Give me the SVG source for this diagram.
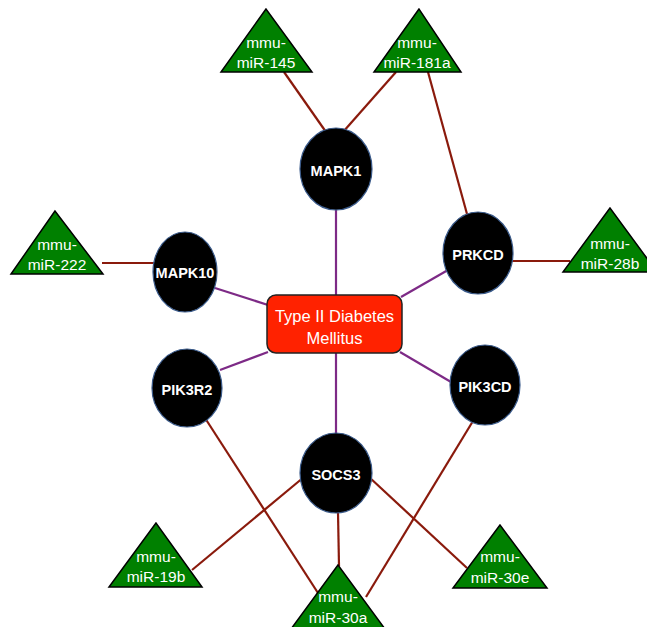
<svg xmlns="http://www.w3.org/2000/svg" width="647" height="627" viewBox="0 0 647 627">
<style>
.bg{fill:#ffffff}
.tri{fill:#008000;stroke:#000;stroke-width:1.5;stroke-linejoin:miter}
.gene{fill:#000;stroke:#3a5a8a;stroke-width:1.2}
.hub{fill:#ff2200;stroke:#222;stroke-width:1.5}
.tt{font-family:"Liberation Sans",Arial,sans-serif;font-size:15.5px;fill:#fff;text-anchor:middle}
.gt{font-family:"Liberation Sans",Arial,sans-serif;font-size:14.5px;font-weight:bold;fill:#fff;text-anchor:middle}
.ht{font-family:"Liberation Sans",Arial,sans-serif;font-size:16.5px;fill:#fff;text-anchor:middle}
.e1{stroke:#7d2a86;stroke-width:2.2;fill:none}
.e2{stroke:#8a1a0c;stroke-width:2.2;fill:none}
</style>
<rect class="bg" x="0" y="0" width="647" height="627"/>
<g id="connectors">
<line class="e1" x1="336" y1="210" x2="336" y2="295"/>
<line class="e1" x1="215" y1="288" x2="268" y2="305"/>
<line class="e1" x1="448" y1="270" x2="401" y2="297"/>
<line class="e1" x1="220" y1="370" x2="268" y2="352"/>
<line class="e1" x1="451" y1="382" x2="400" y2="352"/>
<line class="e1" x1="336" y1="353" x2="336" y2="434"/>
<line class="e2" x1="284" y1="72" x2="326" y2="132"/>
<line class="e2" x1="396" y1="72" x2="343" y2="132"/>
<line class="e2" x1="428" y1="72" x2="467" y2="214"/>
<line class="e2" x1="102" y1="263" x2="154" y2="263"/>
<line class="e2" x1="512" y1="261" x2="570" y2="261"/>
<line class="e2" x1="205" y1="418" x2="318" y2="593"/>
<line class="e2" x1="473" y1="421" x2="366" y2="597"/>
<line class="e2" x1="304" y1="477" x2="192" y2="570"/>
<line class="e2" x1="369" y1="477" x2="467" y2="568"/>
<line class="e2" x1="338" y1="512" x2="339" y2="566"/>
</g>
<g id="hub">
<rect class="hub" x="267" y="295" width="135" height="58" rx="9"/>
<text class="ht" x="334.5" y="322">Type II Diabetes</text>
<text class="ht" x="334.5" y="344">Mellitus</text>
</g>
<g id="MAPK1"><ellipse class="gene" cx="336" cy="169" rx="36" ry="41"/><text class="gt" x="336" y="175.5">MAPK1</text></g>
<g id="MAPK10"><ellipse class="gene" cx="185" cy="272" rx="32" ry="40"/><text class="gt" x="185" y="278">MAPK10</text></g>
<g id="PRKCD"><ellipse class="gene" cx="478" cy="253" rx="35" ry="41"/><text class="gt" x="478" y="259.5">PRKCD</text></g>
<g id="PIK3R2"><ellipse class="gene" cx="187" cy="388" rx="35" ry="39"/><text class="gt" x="187" y="394.5">PIK3R2</text></g>
<g id="PIK3CD"><ellipse class="gene" cx="485" cy="385" rx="35" ry="40"/><text class="gt" x="485" y="391.5">PIK3CD</text></g>
<g id="SOCS3"><ellipse class="gene" cx="336" cy="473" rx="36" ry="40"/><text class="gt" x="336" y="479.5">SOCS3</text></g>
<g id="miR-145"><polygon class="tri" points="266,9 221,72 312,72"/><text class="tt" x="266" y="48">mmu-</text><text class="tt" x="266" y="68">miR-145</text></g>
<g id="miR-181a"><polygon class="tri" points="419,9 374,72 461,72"/><text class="tt" x="417" y="48">mmu-</text><text class="tt" x="417" y="68">miR-181a</text></g>
<g id="miR-222"><polygon class="tri" points="55,211 11,274 103,274"/><text class="tt" x="57" y="250">mmu-</text><text class="tt" x="57" y="270">miR-222</text></g>
<g id="miR-28b"><polygon class="tri" points="610,208 563,272 657,272"/><text class="tt" x="610" y="249">mmu-</text><text class="tt" x="610" y="269">miR-28b</text></g>
<g id="miR-19b"><polygon class="tri" points="156,523 109,587 202,587"/><text class="tt" x="156" y="562">mmu-</text><text class="tt" x="156" y="582">miR-19b</text></g>
<g id="miR-30e"><polygon class="tri" points="500,525 453,588 547,588"/><text class="tt" x="500" y="562">mmu-</text><text class="tt" x="500" y="583">miR-30e</text></g>
<g id="miR-30a"><polygon class="tri" points="338,565 291,629 385,629"/><text class="tt" x="338" y="602">mmu-</text><text class="tt" x="338" y="623">miR-30a</text></g>
</svg>
